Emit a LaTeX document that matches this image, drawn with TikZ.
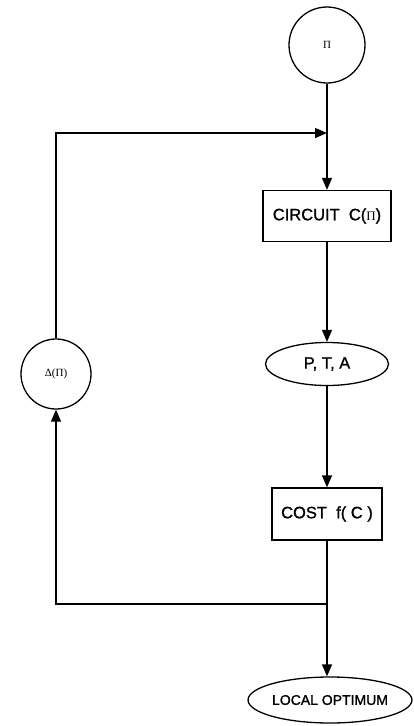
\documentclass[tikz,border=0pt]{standalone}
\usepackage{fontspec}
\setmainfont{Liberation Sans}[FakeBold=1.2]
\newfontfamily\serif{Liberation Serif}
\usetikzlibrary{arrows.meta, shapes.geometric}

\begin{document}
\begin{tikzpicture}[x=1pt, y=-1pt, line width=1.3pt,
      bx/.style={draw, rectangle, inner sep=0pt, font=\fontsize{16.5}{20}\selectfont},
      rnd/.style={draw, circle, inner sep=0pt, font=\serif\fontsize{11}{13}\selectfont},
      ell/.style={draw, ellipse, inner sep=0pt},
      arr/.style={-{Triangle[length=12pt, width=10pt]}}
    ]
    \useasboundingbox (0,0) rectangle (414,726);

    \node[rnd, minimum size=76pt] (pi) at (327,45) {Π};
    \node[bx, minimum width=128pt, minimum height=51pt] (circ) at (327,216) {CIRCUIT\ \ C({\serif\fontsize{13}{15}\selectfont Π})};
    \node[ell, minimum width=123pt, minimum height=43pt, font=\fontsize{16.5}{20}\selectfont] (pta) at (327,364) {P, T, A};
    \node[bx, minimum width=110pt, minimum height=52pt] (cost) at (327,514) {COST\ \ f( C )};
    \node[ell, minimum width=162pt, minimum height=46pt, font=\fontsize{14}{17}\selectfont] (opt) at (330,700) {LOCAL OPTIMUM};
    \node[rnd, minimum size=70pt] (delta) at (56,374) {Δ(Π)};

    \coordinate (merge) at (327,133);
    \coordinate (split) at (327,604);

    % main chain
    \draw[arr] (pi) -- (circ);
    \draw[arr] (circ) -- (pta);
    \draw[arr] (pta) -- (cost);
    \draw[arr] (cost.south) -- (cost.south |- opt.north);

    % feedback loop
    \draw[arr] (split) -| (delta);
    \draw[arr] (delta) |- (merge);
  \end{tikzpicture}
\end{document}
